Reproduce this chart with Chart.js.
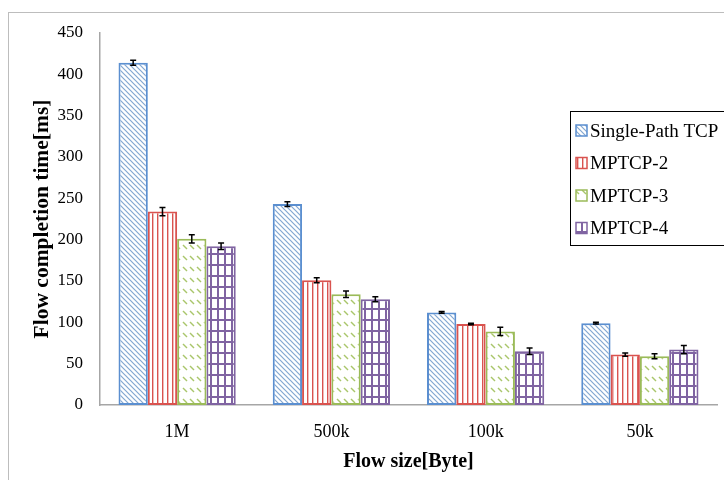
<!DOCTYPE html>
<html>
<head>
<meta charset="utf-8">
<script src="https://cdn.jsdelivr.net/npm/chart.js@4.4.0/dist/chart.umd.min.js"></script>
<style>
body { margin: 0; background: #fff; }
#wrap { position: relative; width: 724px; height: 480px; overflow: hidden; }
#frame { position: absolute; left: 8px; top: 12px; width: 800px; height: 600px; border: 1px solid #bdbdbd; }
canvas { position: absolute; left: 0; top: 0; }
</style>
</head>
<body>
<div id="wrap">
  <div id="frame"></div>
  <canvas id="fct" width="724" height="480"></canvas>
</div>
<script>
const flowSizes = ['1M', '500k', '100k', '50k'];
const seriesNames = ['Single-Path TCP', 'MPTCP-2', 'MPTCP-3', 'MPTCP-4'];
const singlePath = [414, 243, 112, 99];
const mptcp2 = [234, 151, 98, 61];
const mptcp3 = [201, 134, 89, 59];
const mptcp4 = [192, 128, 65, 67];
const errSingle = [3, 3, 1, 1];
const err2 = [5, 3, 1, 2];
const err3 = [5, 4, 5, 3];
const err4 = [4, 3, 4, 5];

const FONT = "'Liberation Serif', 'Times New Roman', serif";

const makeTile = (w, h, draw) => {
    const c = document.createElement('canvas');
    c.width = w; c.height = h;
    const g = c.getContext('2d');
    g.fillStyle = '#fff';
    g.fillRect(0, 0, w, h);
    draw(g);
    return document.getElementById('fct').getContext('2d').createPattern(c, 'repeat');
};

// hatch fills, one per series
const bluePat = makeTile(5, 5, g => {
    g.strokeStyle = 'rgba(79,129,189,0.7)';
    g.lineWidth = 1.2;
    g.beginPath();
    g.moveTo(-1, -1); g.lineTo(6, 6);
    g.moveTo(-1, 4); g.lineTo(1, 6);
    g.moveTo(4, -1); g.lineTo(6, 1);
    g.stroke();
});
const redPat = makeTile(5, 4, g => {
    g.fillStyle = '#d9534f';
    g.fillRect(2, 0, 1.4, 4);
});
const greenPat = makeTile(7, 11, g => {
    g.strokeStyle = '#a9c66b';
    g.lineWidth = 1.5;
    g.beginPath();
    g.moveTo(1, 3); g.lineTo(5, 7);
    g.stroke();
});
const purplePat = makeTile(7, 11, g => {
    g.fillStyle = '#8064a2';
    g.fillRect(0, 0, 2, 11);
    g.fillRect(0, 0, 7, 2);
});

const errorBars = {
    id: 'errorBars',
    afterDatasetsDraw(chart) {
        const ctx = chart.ctx;
        const y = chart.scales.y;
        ctx.save();
        ctx.strokeStyle = '#000';
        ctx.lineWidth = 1.5;
        chart.data.datasets.forEach((ds, i) => {
            chart.getDatasetMeta(i).data.forEach((bar, j) => {
                const top = y.getPixelForValue(ds.data[j] + ds.errors[j]);
                const bot = y.getPixelForValue(ds.data[j] - ds.errors[j]);
                ctx.beginPath();
                ctx.moveTo(bar.x, top); ctx.lineTo(bar.x, bot);
                ctx.moveTo(bar.x - 3, top); ctx.lineTo(bar.x + 3, top);
                ctx.moveTo(bar.x - 3, bot); ctx.lineTo(bar.x + 3, bot);
                ctx.stroke();
            });
        });
        ctx.restore();
    }
};

const boxLegend = {
    id: 'boxLegend',
    afterDraw(chart) {
        const ctx = chart.ctx;
        ctx.save();
        ctx.fillStyle = '#fff';
        ctx.fillRect(570, 111, 170, 134);
        ctx.strokeStyle = '#000';
        ctx.lineWidth = 1;
        ctx.strokeRect(570.5, 111.5, 170, 134);
        ctx.font = '19px ' + FONT;
        ctx.textBaseline = 'middle';
        chart.data.datasets.forEach((ds, i) => {
            const cy = 131 + i * 32.5;
            ctx.fillStyle = ds.backgroundColor;
            ctx.fillRect(576, cy - 6, 11, 11);
            ctx.strokeStyle = ds.borderColor;
            ctx.lineWidth = 1.5;
            ctx.strokeRect(576, cy - 6, 11, 11);
            ctx.fillStyle = '#000';
            ctx.fillText(ds.label, 590, cy + 1);
        });
        ctx.restore();
    }
};

const mk = (label, data, errors, fill, edge) => ({
    label, data, errors,
    backgroundColor: fill,
    borderColor: edge,
    borderWidth: 2,
    borderSkipped: false,
    categoryPercentage: 0.76,
    barPercentage: 1
});

new Chart(document.getElementById('fct'), {
    type: 'bar',
    data: {
        labels: flowSizes,
        datasets: [
            mk(seriesNames[0], singlePath, errSingle, bluePat, '#5b8fd0'),
            mk(seriesNames[1], mptcp2, err2, redPat, '#d9534f'),
            mk(seriesNames[2], mptcp3, err3, greenPat, '#9bbb59'),
            mk(seriesNames[3], mptcp4, err4, purplePat, '#8064a2')
        ]
    },
    options: {
        responsive: false,
        animation: false,
        devicePixelRatio: 1,
        layout: { padding: { left: 30, right: 7, top: 33, bottom: 0 } },
        plugins: { legend: { display: false }, tooltip: { enabled: false } },
        scales: {
            x: {
                grid: { display: false, drawTicks: false },
                border: { color: '#a6a6a6', width: 1.5 },
                ticks: { color: '#000', font: { family: FONT, size: 18 }, padding: 16 },
                title: {
                    display: true, text: 'Flow size[Byte]', color: '#000',
                    font: { family: FONT, size: 20, weight: 'bold' }, padding: { top: 4, bottom: 6 }
                },
                afterFit: s => { s.height = 75; }
            },
            y: {
                min: 0, max: 450,
                grid: { display: false, drawTicks: false },
                border: { color: '#a6a6a6', width: 1.5 },
                ticks: { stepSize: 50, color: '#000', font: { family: FONT, size: 17 }, padding: 17 },
                title: {
                    display: true, text: 'Flow completion time[ms]', color: '#000',
                    font: { family: FONT, size: 21.5, weight: 'bold' }, padding: 0
                },
                afterFit: s => { s.width = 70; }
            }
        }
    },
    plugins: [errorBars, boxLegend]
});
</script>
</body>
</html>
